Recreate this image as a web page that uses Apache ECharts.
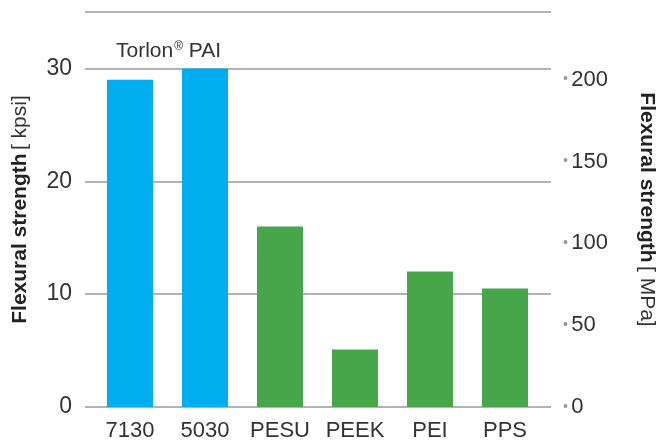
<!DOCTYPE html>
<html>
<head>
<meta charset="utf-8">
<script src="https://cdn.jsdelivr.net/npm/echarts@6/dist/echarts.min.js"></script>
<style>
  html, body { margin: 0; padding: 0; background: #fff; }
  #chart { width: 669px; height: 441px; }
</style>
</head>
<body>
<div id="chart"></div>
<script>
const grades = ['7130', '5030', 'PESU', 'PEEK', 'PEI', 'PPS'];
const torlonKpsi = [29, 30, '-', '-', '-', '-'];
const otherKpsi = ['-', '-', 16, 5.1, 12, 10.5];
const kpsiMax = 35;
const kpsiToMpa = 6.894757;

const font = 'Liberation Sans, Arial, sans-serif';
const textColor = '#333';
const gridColor = '#9a9a9a';

const chart = echarts.init(document.getElementById('chart'));

const axisNameStyle = {
    rich: {
        b: { fontSize: 21, fontWeight: 'bold', color: '#222', fontFamily: font },
        n: { fontSize: 21, color: textColor, fontFamily: font },
    },
};

chart.setOption({
    animation: false,
    textStyle: { fontFamily: font },
    title: {
        text: '{a|Torlon}{r|®}{a| PAI}',
        left: 111,
        top: 36,
        textStyle: {
            fontWeight: 'normal',
            rich: {
                a: { fontSize: 21, color: textColor, fontFamily: font, fontWeight: 'normal' },
                r: { fontSize: 12, color: textColor, fontFamily: font, fontWeight: 'normal', verticalAlign: 'top', padding: [0, 0, 8, 1] },
            },
        },
    },
    grid: [
        // bars
        { left: 92.5, right: 126.5, top: 12, bottom: 34, outerBoundsMode: 'none' },
        // gridlines and value axes
        { left: 85, right: 118, top: 12, bottom: 34, outerBoundsMode: 'none' },
    ],
    xAxis: [
        {
            type: 'category',
            gridIndex: 0,
            data: grades,
            axisLine: { show: false },
            axisTick: { show: false },
            axisLabel: { interval: 0, fontSize: 22, color: textColor, margin: 13 },
        },
        {
            type: 'value',
            gridIndex: 1,
            show: false,
        },
    ],
    yAxis: [
        {
            type: 'value',
            gridIndex: 0,
            min: 0,
            max: kpsiMax,
            show: false,
        },
        {
            type: 'value',
            gridIndex: 1,
            min: 0,
            max: kpsiMax,
            interval: 10,
            axisLine: { show: false },
            axisTick: { show: false },
            splitLine: { lineStyle: { color: gridColor, width: 1.5 } },
            axisLabel: { fontSize: 23, color: textColor, margin: 13, showMaxLabel: false },
            name: '{b|Flexural strength} {n|[ kpsi]}',
            nameLocation: 'middle',
            nameGap: 54,
            nameTextStyle: axisNameStyle,
        },
        {
            type: 'value',
            gridIndex: 1,
            position: 'right',
            min: 0,
            max: kpsiMax * kpsiToMpa,
            interval: 50,
            axisLine: { show: false },
            axisTick: { show: false },
            splitLine: { show: false },
            axisLabel: {
                margin: 12,
                showMaxLabel: false,
                formatter: (v) => `{d|•} {v|${v}}`,
                rich: {
                    d: { fontSize: 14, color: '#999', fontFamily: font },
                    v: { fontSize: 22, color: textColor, fontFamily: font },
                },
            },
            name: '{b|Flexural strength} {n|[ MPa]}',
            nameLocation: 'middle',
            nameGap: 85,
            nameRotate: -90,
            nameTextStyle: axisNameStyle,
        },
    ],
    series: [
        {
            type: 'bar',
            xAxisIndex: 0,
            yAxisIndex: 0,
            data: torlonKpsi,
            barWidth: 46,
            barGap: '-100%',
            itemStyle: { color: '#00aeef' },
        },
        {
            type: 'bar',
            xAxisIndex: 0,
            yAxisIndex: 0,
            data: otherKpsi,
            barWidth: 46,
            barGap: '-100%',
            itemStyle: { color: '#48a64a' },
        },
    ],
});
</script>
</body>
</html>
